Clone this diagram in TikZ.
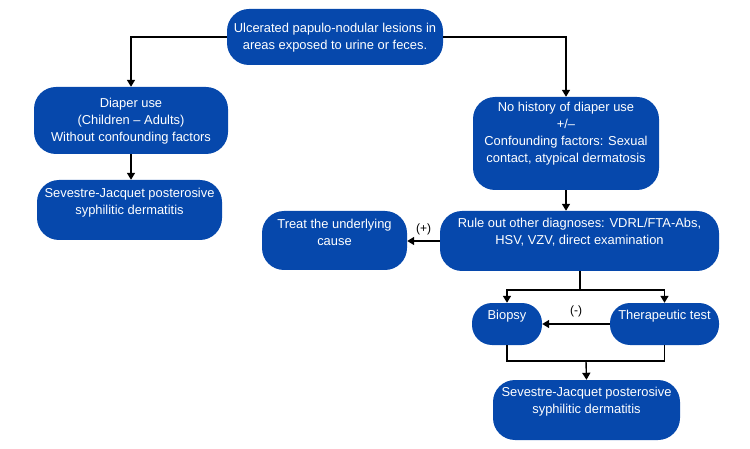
\documentclass[tikz,border=0pt]{standalone}
\usepackage{fontspec}
\setmainfont{Liberation Sans}
\usepackage{xcolor}
\usetikzlibrary{arrows.meta}
\definecolor{boxblue}{RGB}{6,72,172}

\begin{document}
\begin{tikzpicture}[x=1pt,y=-1pt,
  box/.style={fill=boxblue,rounded corners=22pt,inner sep=0pt},
  txt/.style={text=white,align=center,font=\fontsize{12.9}{17}\selectfont,inner sep=0pt},
  sign/.style={font=\fontsize{12}{13}\selectfont,inner sep=0pt},
  link/.style={line width=1.4pt,-{Triangle[width=8pt,length=7pt]}},
  wire/.style={line width=1.4pt}]
\useasboundingbox (0,0) rectangle (750,449);
% boxes
\node[box,minimum width=216pt,minimum height=56pt] (top) at (335,37) {};
\node[box,minimum width=194pt,minimum height=67pt] (diaper) at (131,120.5) {};
\node[box,minimum width=185pt,minimum height=60pt] (sjleft) at (129.5,210) {};
\node[box,minimum width=186pt,minimum height=93pt] (nodiaper) at (566,143.5) {};
\node[box,minimum width=279pt,minimum height=60pt] (ruleout) at (579.5,241) {};
\node[box,minimum width=145pt,minimum height=59pt] (treat) at (334.5,240.5) {};
\node[box,minimum width=70pt,minimum height=42pt,rounded corners=20pt] (biopsy) at (507,324) {};
\node[box,minimum width=109pt,minimum height=42pt,rounded corners=20pt] (thertest) at (664.5,324) {};
\node[box,minimum width=187pt,minimum height=60pt] (sjright) at (586.5,410) {};
% texts
\node[txt] (topt) at (335,37.5) {Ulcerated papulo-nodular lesions in\\areas exposed to urine or feces.};
\node[txt] (diapert) at (131,121) {Diaper use\\(Children -- Adults)\\Without confounding factors};
\node[txt] (sjleftt) at (129.5,202.5) {Sevestre-Jacquet posterosive\\syphilitic dermatitis};
\node[txt] (nodiapert) at (566,134) {No history of diaper use\\+/--\\Confounding factors: Sexual\\contact, atypical dermatosis};
\node[txt] (ruleoutt) at (579.5,232.5) {Rule out other diagnoses: VDRL/FTA-Abs,\\HSV, VZV, direct examination};
\node[txt] (treatt) at (334.5,232.5) {Treat the underlying\\cause};
\node[txt] (biopsyt) at (507,316) {Biopsy};
\node[txt] (thertestt) at (664.5,316) {Therapeutic test};
\node[txt] (sjrightt) at (586.5,401.5) {Sevestre-Jacquet posterosive\\syphilitic dermatitis};
% connectors
\draw[link] (top.west) -| (diaper.north);
\draw[link] (top.east) -| (nodiaper.north);
\draw[link] (diaper.south) -- (diaper.south |- sjleft.north);
\draw[link] (nodiaper.south) -- (nodiaper.south |- ruleout.north);
\draw[link] (ruleout.west) -- (ruleout.west -| treat.east) node[sign,midway,above=5pt] (plus) {(+)};
\coordinate (split) at (580,290);
\draw[wire] (ruleout.south -| split) -- (split);
\draw[link] (split) -| (biopsy.north);
\draw[link] (split) -| (thertest.north);
\draw[link] (thertest.west) -- (biopsy.east) node[sign,midway,above=6pt] (minus) {(-)};
\coordinate (join) at (586,361);
\draw[wire] (biopsy.south) |- (join) -| (thertest.south);
\draw[link] (join) -- (sjright.north);
\end{tikzpicture}
\end{document}
